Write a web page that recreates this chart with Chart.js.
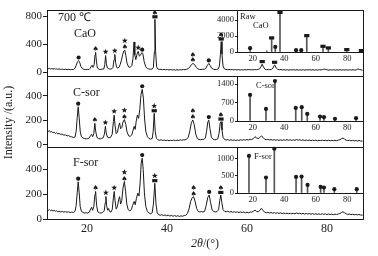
<!DOCTYPE html>
<html>
<head>
<meta charset="utf-8">
<script src="https://cdn.jsdelivr.net/npm/chart.js@4.4.0/dist/chart.umd.min.js"></script>
<style>
  html, body { margin: 0; padding: 0; background: #fff; }
  #wrap { position: relative; width: 378px; height: 256px; }
  #wrap canvas { position: absolute; left: 0; top: 0; }
</style>
</head>
<body>
<div id="wrap">
  <canvas id="cao" width="378" height="256"></canvas>
  <canvas id="csor" width="378" height="256"></canvas>
  <canvas id="fsor" width="378" height="256"></canvas>
  <canvas id="rawInset" width="378" height="256"></canvas>
  <canvas id="csorInset" width="378" height="256"></canvas>
  <canvas id="fsorInset" width="378" height="256"></canvas>
</div>
<script>
// tick labels
const xTicks = [20, 40, 60, 80];
const insetXTicks = [20, 40, 60, 80];
const caoTicks = [0, 400, 800];
const csorTicks = [0, 200, 400];
const fsorTicks = [0, 200, 400];
const rawInsetTicks = [0, 2000, 4000];
const csorInsetTicks = [0, 700, 1400];
const fsorInsetTicks = [0, 500, 1000];

// main patterns, [2theta, intensity]
const cao700 = [[10.0,58],[10.3,50],[10.6,55],[10.9,47],[11.2,52],[11.5,45],[11.8,50],[12.1,44],[12.4,48],[12.7,42],[13.0,47],[13.4,40],[13.8,44],[14.2,38],[14.6,43],[15.0,36],[15.4,41],[15.8,35],[16.2,40],[16.6,38],[17.0,55],[17.3,100],[17.6,150],[17.9,167],[18.2,135],[18.5,80],[18.9,48],[19.3,40],[19.7,36],[20.1,40],[20.5,38],[20.8,55],[21.1,90],[21.3,100],[21.5,70],[21.8,110],[22.0,250],[22.15,285],[22.35,160],[22.6,60],[23.0,42],[23.4,38],[23.8,44],[24.2,45],[24.45,110],[24.65,240],[24.85,120],[25.1,60],[25.4,50],[25.8,44],[26.2,48],[26.5,70],[26.75,180],[26.95,255],[27.15,140],[27.4,70],[27.7,60],[28.0,70],[28.3,110],[28.6,170],[28.9,250],[29.2,305],[29.45,318],[29.7,240],[30.0,130],[30.4,75],[30.8,70],[31.2,95],[31.5,200],[31.75,435],[31.95,250],[32.2,180],[32.5,260],[32.8,300],[33.1,230],[33.4,250],[33.7,280],[33.95,270],[34.3,150],[34.7,75],[35.1,52],[35.5,45],[35.9,42],[36.3,45],[36.6,70],[36.85,300],[36.98,760],[37.15,300],[37.4,80],[37.7,45],[38.1,38],[38.5,42],[38.9,35],[39.3,40],[39.7,34],[40.1,38],[40.5,32],[40.9,37],[41.3,31],[41.7,36],[42.1,30],[42.5,35],[42.9,31],[43.3,36],[43.7,33],[44.1,38],[44.5,35],[44.9,42],[45.3,50],[45.7,75],[46.1,110],[46.5,125],[46.9,110],[47.3,70],[47.7,48],[48.1,40],[48.5,38],[48.9,42],[49.3,40],[49.7,55],[50.1,100],[50.45,125],[50.8,95],[51.2,55],[51.6,42],[52.0,38],[52.4,40],[52.8,45],[53.1,90],[53.35,250],[53.55,440],[53.75,260],[54.0,90],[54.3,50],[54.7,40],[55.1,36],[55.5,40],[55.9,34],[56.3,38],[56.7,33],[57.1,37],[57.5,32],[57.9,36],[58.3,31],[58.7,36],[59.1,32],[59.5,37],[59.9,33],[60.3,38],[60.7,34],[61.1,36],[61.5,33],[61.9,38],[62.3,35],[62.7,40],[63.1,45],[63.5,80],[63.8,115],[64.1,75],[64.5,42],[64.9,36],[65.3,40],[65.7,35],[66.1,40],[66.5,60],[66.9,105],[67.3,60],[67.7,38],[68.1,35],[68.5,38],[68.9,32],[69.3,36],[69.7,31],[70.1,35],[70.5,30],[70.9,34],[71.3,32],[71.7,36],[72.1,31],[72.5,35],[72.9,30],[73.3,34],[73.7,31],[74.1,35],[74.5,30],[74.9,34],[75.3,32],[75.7,36],[76.1,31],[76.5,35],[76.9,30],[77.3,34],[77.7,31],[78.1,35],[78.5,32],[78.9,38],[79.3,45],[79.7,38],[80.1,33],[80.5,30],[80.9,34],[81.3,31],[81.7,35],[82.1,30],[82.5,34],[82.9,31],[83.3,35],[83.7,30],[84.1,34],[84.5,31],[84.9,35],[85.3,30],[85.7,34],[86.1,31],[86.5,35],[86.9,30],[87.3,34],[87.7,45],[88.1,40],[88.5,32],[88.9,30]];

const csor = [[10.0,120],[10.3,108],[10.6,115],[10.9,102],[11.2,108],[11.5,97],[11.8,102],[12.1,92],[12.4,97],[12.7,88],[13.0,92],[13.4,84],[13.8,86],[14.2,78],[14.6,80],[15.0,72],[15.4,74],[15.8,66],[16.2,64],[16.6,58],[17.0,62],[17.3,110],[17.55,220],[17.8,310],[18.05,220],[18.3,110],[18.6,65],[19.0,54],[19.4,50],[19.8,47],[20.2,50],[20.6,56],[20.9,75],[21.15,85],[21.4,65],[21.7,90],[21.95,175],[22.2,105],[22.5,58],[22.9,50],[23.3,47],[23.7,52],[24.1,58],[24.4,95],[24.6,150],[24.8,95],[25.1,62],[25.5,56],[25.9,60],[26.3,85],[26.6,190],[26.8,242],[27.0,160],[27.3,90],[27.6,100],[27.9,150],[28.15,178],[28.4,130],[28.7,140],[29.0,185],[29.35,205],[29.7,165],[30.0,105],[30.4,72],[30.8,68],[31.2,80],[31.5,115],[31.8,150],[32.05,125],[32.3,190],[32.6,242],[32.9,215],[33.2,290],[33.5,410],[33.8,452],[34.1,380],[34.4,210],[34.7,110],[35.1,65],[35.5,50],[35.9,46],[36.3,50],[36.55,110],[36.8,256],[37.05,110],[37.35,52],[37.7,40],[38.1,36],[38.5,40],[38.9,34],[39.3,38],[39.7,33],[40.1,37],[40.5,32],[40.9,36],[41.3,34],[41.7,38],[42.1,33],[42.5,37],[42.9,34],[43.3,39],[43.7,36],[44.1,40],[44.5,38],[44.9,45],[45.3,60],[45.7,110],[46.1,180],[46.45,202],[46.8,165],[47.2,85],[47.6,50],[48.0,42],[48.4,40],[48.8,44],[49.2,42],[49.6,55],[49.9,110],[50.2,185],[50.45,200],[50.75,130],[51.1,60],[51.5,44],[51.9,40],[52.3,42],[52.7,48],[53.0,90],[53.3,175],[53.5,188],[53.75,120],[54.0,60],[54.4,42],[54.8,38],[55.2,42],[55.6,36],[56.0,40],[56.4,35],[56.8,39],[57.2,34],[57.6,38],[58.0,35],[58.4,40],[58.8,36],[59.2,41],[59.6,37],[60.0,42],[60.4,38],[60.8,44],[61.2,42],[61.6,50],[62.0,65],[62.4,55],[62.8,50],[63.2,58],[63.6,72],[64.0,60],[64.4,45],[64.8,40],[65.2,44],[65.6,38],[66.0,42],[66.4,37],[66.8,41],[67.2,36],[67.6,40],[68.0,35],[68.4,39],[68.8,35],[69.2,40],[69.6,36],[70.0,41],[70.4,36],[70.8,40],[71.2,35],[71.6,39],[72.0,36],[72.4,42],[72.8,37],[73.2,40],[73.6,35],[74.0,39],[74.4,34],[74.8,38],[75.2,34],[75.6,38],[76.0,33],[76.4,37],[76.8,33],[77.2,37],[77.6,32],[78.0,36],[78.4,33],[78.8,37],[79.2,33],[79.6,36],[80.0,32],[80.4,36],[80.8,32],[81.2,35],[81.6,32],[82.0,36],[82.4,33],[82.8,38],[83.2,40],[83.6,48],[84.0,54],[84.4,45],[84.8,36],[85.2,33],[85.6,36],[86.0,31],[86.4,35],[86.8,31],[87.2,34],[87.6,30],[88.0,34],[88.4,30],[88.9,29]];

const fsor = [[10.0,80],[10.3,70],[10.6,76],[10.9,66],[11.2,72],[11.5,64],[11.8,70],[12.1,62],[12.4,66],[12.7,58],[13.0,64],[13.4,57],[13.8,61],[14.2,55],[14.6,60],[15.0,54],[15.4,58],[15.8,52],[16.2,56],[16.6,52],[17.0,62],[17.3,110],[17.55,210],[17.8,300],[18.05,210],[18.3,100],[18.6,62],[19.0,52],[19.4,48],[19.8,50],[20.2,48],[20.6,55],[20.9,80],[21.15,95],[21.4,70],[21.7,100],[22.0,200],[22.15,222],[22.4,110],[22.7,58],[23.1,50],[23.5,48],[23.9,52],[24.3,65],[24.55,130],[24.72,182],[24.9,110],[25.15,70],[25.4,85],[25.65,60],[26.0,56],[26.3,75],[26.6,170],[26.8,222],[27.0,150],[27.3,80],[27.6,100],[27.9,155],[28.15,180],[28.4,120],[28.7,150],[29.0,250],[29.35,302],[29.65,220],[29.95,120],[30.3,75],[30.7,66],[31.1,75],[31.4,110],[31.8,142],[32.05,115],[32.35,165],[32.7,208],[33.0,185],[33.3,300],[33.55,450],[33.8,490],[34.05,400],[34.35,210],[34.7,100],[35.1,60],[35.5,48],[35.9,42],[36.3,50],[36.6,120],[36.95,288],[37.25,120],[37.55,50],[37.9,35],[38.3,30],[38.7,35],[39.1,28],[39.5,33],[39.9,26],[40.3,31],[40.7,24],[41.1,29],[41.5,22],[41.9,28],[42.3,21],[42.7,27],[43.1,20],[43.5,26],[43.9,22],[44.3,28],[44.7,30],[45.1,45],[45.5,80],[45.9,140],[46.3,172],[46.65,180],[47.0,145],[47.4,85],[47.8,62],[48.2,56],[48.6,60],[49.0,56],[49.4,62],[49.8,110],[50.2,175],[50.55,193],[50.9,130],[51.3,72],[51.7,60],[52.1,57],[52.5,60],[52.9,75],[53.2,150],[53.45,193],[53.7,135],[54.0,75],[54.4,62],[54.8,58],[55.2,62],[55.6,56],[56.0,60],[56.4,54],[56.8,59],[57.2,53],[57.6,58],[58.0,52],[58.4,57],[58.8,52],[59.2,56],[59.6,50],[60.0,55],[60.4,50],[60.8,56],[61.2,55],[61.6,62],[62.0,72],[62.4,60],[62.8,58],[63.2,68],[63.6,86],[64.0,70],[64.4,55],[64.8,50],[65.2,54],[65.6,48],[66.0,52],[66.4,47],[66.8,51],[67.2,46],[67.6,50],[68.0,45],[68.4,49],[68.8,44],[69.2,48],[69.6,43],[70.0,47],[70.4,43],[70.8,46],[71.2,42],[71.6,46],[72.0,42],[72.4,48],[72.8,43],[73.2,46],[73.6,41],[74.0,45],[74.4,40],[74.8,44],[75.2,40],[75.6,43],[76.0,39],[76.4,43],[76.8,38],[77.2,42],[77.6,38],[78.0,41],[78.4,37],[78.8,42],[79.2,38],[79.6,41],[80.0,36],[80.4,40],[80.8,36],[81.2,39],[81.6,35],[82.0,39],[82.4,36],[82.8,40],[83.2,44],[83.6,52],[84.0,58],[84.4,50],[84.8,42],[85.2,37],[85.6,40],[86.0,35],[86.4,38],[86.8,34],[87.2,37],[87.6,33],[88.0,36],[88.4,32],[88.9,31]];

// phase marks above peaks: [2theta, peak intensity, symbols top->bottom]
const caoMarks = [[17.9,167,'●'],[22.15,285,'♠'],[24.65,240,'★'],[26.95,255,'★'],[29.45,318,'★♠'],[32.8,300,'★'],[33.8,280,'●'],[36.98,760,'♠■'],[46.5,125,'♠♠'],[50.45,125,'●'],[53.55,440,'♠■'],[63.8,115,'■'],[66.9,105,'■']];
const csorMarks = [[17.8,310,'●'],[21.95,175,'♠'],[24.6,150,'★'],[26.8,242,'★'],[29.35,205,'★♠'],[33.8,452,'●'],[36.8,256,'★■'],[46.45,202,'♠♠'],[50.45,200,'●'],[53.5,188,'♠■']];
const fsorMarks = [[17.8,300,'●'],[22.15,222,'♠'],[24.72,182,'★'],[26.8,222,'★'],[29.35,302,'★♠'],[33.8,490,'●'],[36.95,288,'★■'],[46.65,180,'♠♠'],[50.55,193,'●'],[53.45,193,'♠■']];

// inset stick patterns: [2theta, intensity, symbol]
const rawCaoSticks = [[18.3,275,'●'],[28.9,150,''],[32.0,1625,'■'],[34.3,440,'●'],[37.3,4810,'■'],[47.5,25,'●'],[50.8,25,'●'],[54.3,1910,'■'],[64.6,575,'■'],[68.0,375,'■'],[79.7,160,'■'],[89.0,40,'■']];
const csorSticks = [[18.3,927,'●'],[28.4,397,'●'],[34.1,1450,'●'],[47.3,435,'●'],[51.1,461,'●'],[54.6,208,'●'],[62.7,106,'●'],[65.2,83,'●'],[72.2,20,'●'],[85.6,45,'●']];
const fsorSticks = [[17.6,1023,'●'],[28.4,398,'●'],[33.7,1230,'●'],[47.5,418,'●'],[51.0,426,'●'],[54.8,187,'●'],[63.1,130,'●'],[65.2,110,'●'],[71.8,63,'●'],[86.0,63,'●']];

const W = 378, H = 256;
const plotLeft = 47, plotRight = 363, insetLeft = 237;
const serif = 'Liberation Serif';
const ink = '#1a1a1a';

function setTicks(values) {
  return (scale) => { scale.ticks = values.map((v) => ({ value: v })); };
}
const plainLabel = (v) => String(v);

function drawMark(ctx, s, x, y) {
  // y is the bottom of the symbol, returns the height used
  ctx.beginPath();
  if (s === '●') {
    ctx.arc(x, y - 2.1, 2.1, 0, Math.PI * 2);
    ctx.fill();
    return 4.6;
  }
  if (s === '■') {
    ctx.fillRect(x - 2.6, y - 3.2, 5.2, 3.2);
    return 3.7;
  }
  if (s === '★') {
    const cy = y - 2.7;
    for (let i = 0; i < 10; i++) {
      const r = i % 2 ? 1.25 : 3.1;
      const a = -Math.PI / 2 + i * Math.PI / 5;
      ctx.lineTo(x + r * Math.cos(a), cy + r * Math.sin(a));
    }
    ctx.closePath();
    ctx.fill();
    return 5.4;
  }
  if (s === '♠') {
    ctx.font = '7px "DejaVu Sans"';
    ctx.textAlign = 'center';
    ctx.textBaseline = 'alphabetic';
    ctx.fillText('♠', x, y);
    return 5.6;
  }
  return 0;
}

const panelDeco = {
  id: 'panelDeco',
  beforeDraw(chart, args, o) {
    if (!o.fill) return;
    const a = chart.chartArea;
    chart.ctx.save();
    chart.ctx.fillStyle = '#fff';
    chart.ctx.fillRect(a.left, a.top, a.right - a.left, a.bottom - a.top);
    chart.ctx.restore();
  },
  afterDraw(chart, args, o) {
    const { ctx, chartArea: a, scales: { x, y } } = chart;
    ctx.save();
    ctx.strokeStyle = ink;
    ctx.lineWidth = 1;
    const l = Math.round(a.left) + 0.5, t = Math.round(a.top) + 0.5;
    const r = Math.round(a.right) + 0.5, b = Math.round(a.bottom) + 0.5;
    ctx.strokeRect(l, t, r - l, b - t);

    ctx.fillStyle = ink;
    (o.marks || []).forEach(([deg, val, sym]) => {
      const px = x.getPixelForValue(deg);
      let py = y.getPixelForValue(val) - o.gap;
      [...sym].reverse().forEach((s) => { py -= drawMark(ctx, s, px, py); });
    });

    (o.labels || []).forEach((lb) => {
      ctx.save();
      ctx.translate(lb.x, lb.y);
      if (lb.rotate) ctx.rotate(-Math.PI / 2);
      ctx.textBaseline = 'alphabetic';
      const parts = lb.parts || [[lb.text, lb.font]];
      let total = 0;
      parts.forEach(([tx, f]) => { ctx.font = f; total += ctx.measureText(tx).width; });
      let cx = lb.center ? -total / 2 : 0;
      ctx.textAlign = 'left';
      parts.forEach(([tx, f]) => {
        ctx.font = f;
        ctx.fillText(tx, cx, 0);
        cx += ctx.measureText(tx).width;
      });
      ctx.restore();
    });
    ctx.restore();
  },
};

function mainPanel(id, cfg) {
  const xh = cfg.showX ? 37 : 0;
  return new Chart(document.getElementById(id), {
    type: 'line',
    data: {
      datasets: [{
        data: cfg.points.map((p) => ({ x: p[0], y: p[1] })),
        borderColor: ink,
        borderWidth: 1,
        pointRadius: 0,
        tension: 0,
      }],
    },
    options: {
      responsive: false,
      animation: false,
      events: [],
      layout: {
        padding: { left: 0, right: W - plotRight, top: cfg.top, bottom: H - cfg.bottom - xh },
      },
      plugins: {
        legend: { display: false },
        tooltip: { enabled: false },
        panelDeco: { marks: cfg.marks, labels: cfg.labels, gap: 1 },
      },
      scales: {
        x: {
          type: 'linear',
          min: 10,
          max: 89,
          display: cfg.showX,
          afterFit(s) { s.height = xh; },
          afterBuildTicks: setTicks(xTicks),
          grid: { display: false, drawTicks: false },
          border: { display: false },
          ticks: { color: ink, font: { family: serif, size: 12 }, padding: 3, maxRotation: 0, callback: plainLabel },
        },
        y: {
          min: cfg.min,
          max: cfg.max,
          afterFit(s) { s.width = plotLeft; },
          afterBuildTicks: setTicks(cfg.ticks),
          grid: { drawOnChartArea: false, tickLength: 4, color: ink },
          border: { display: false },
          ticks: { color: ink, font: { family: serif, size: 11 }, padding: 1, callback: plainLabel },
        },
      },
    },
    plugins: [panelDeco],
  });
}

function insetPanel(id, cfg) {
  return new Chart(document.getElementById(id), {
    type: 'bar',
    data: {
      datasets: [{
        data: cfg.sticks.map((s) => ({ x: s[0], y: s[1] })),
        backgroundColor: '#555',
        barThickness: 1,
      }],
    },
    options: {
      responsive: false,
      animation: false,
      events: [],
      layout: {
        padding: { left: insetLeft - 22, right: W - plotRight, top: cfg.top, bottom: H - cfg.bottom - 12 },
      },
      plugins: {
        legend: { display: false },
        tooltip: { enabled: false },
        panelDeco: { fill: true, marks: cfg.sticks, labels: cfg.labels, gap: -0.5 },
      },
      scales: {
        x: {
          type: 'linear',
          offset: false,
          min: 10,
          max: 90,
          afterFit(s) { s.height = 12; },
          afterBuildTicks: setTicks(insetXTicks),
          grid: { display: false, drawTicks: false },
          border: { display: false },
          ticks: { color: ink, font: { family: serif, size: 8.5 }, padding: 2, maxRotation: 0, callback: plainLabel },
        },
        y: {
          min: 0,
          max: cfg.max,
          afterFit(s) { s.width = 22; },
          afterBuildTicks: setTicks(cfg.ticks),
          grid: { drawOnChartArea: false, tickLength: 2, color: ink },
          border: { display: false },
          ticks: { color: ink, font: { family: serif, size: 8.5 }, padding: 1, callback: plainLabel },
        },
      },
    },
    plugins: [panelDeco],
  });
}

const big = `12px "${serif}"`;
const small = `8.5px "${serif}"`;

mainPanel('cao', {
  points: cao700, marks: caoMarks, ticks: caoTicks, min: -55, max: 895, top: 10, bottom: 76, showX: false,
  labels: [{ text: '700 ℃', font: big, x: 58, y: 20.5 }, { text: 'CaO', font: big, x: 74, y: 36.5 }],
});
mainPanel('csor', {
  points: csor, marks: csorMarks, ticks: csorTicks, min: -19, max: 561, top: 76, bottom: 147, showX: false,
  labels: [{ text: 'C-sor', font: big, x: 73, y: 96 }],
});
mainPanel('fsor', {
  points: fsor, marks: fsorMarks, ticks: fsorTicks, min: 0, max: 580, top: 147, bottom: 219, showX: true,
  labels: [
    { text: 'F-sor', font: big, x: 73, y: 166 },
    { parts: [['2θ', `italic 12px "${serif}"`], ['/(°)', big]], x: 205, y: 246.5, center: true },
    { text: 'Intensity /(a.u.)', font: big, x: 12, y: 122.5, rotate: true, center: true },
  ],
});
insetPanel('rawInset', {
  sticks: rawCaoSticks, ticks: rawInsetTicks, max: 5250, top: 10, bottom: 52,
  labels: [{ text: 'Raw', font: small, x: 240, y: 19 }, { text: 'CaO', font: small, x: 253, y: 27.5 }],
});
insetPanel('csorInset', {
  sticks: csorSticks, ticks: csorInsetTicks, max: 1703, top: 76, bottom: 121,
  labels: [{ text: 'C-sor', font: small, x: 256, y: 87.5 }],
});
insetPanel('fsorInset', {
  sticks: fsorSticks, ticks: fsorInsetTicks, max: 1326, top: 147, bottom: 193,
  labels: [{ text: 'F-sor', font: small, x: 254, y: 158.5 }],
});
</script>
</body>
</html>
